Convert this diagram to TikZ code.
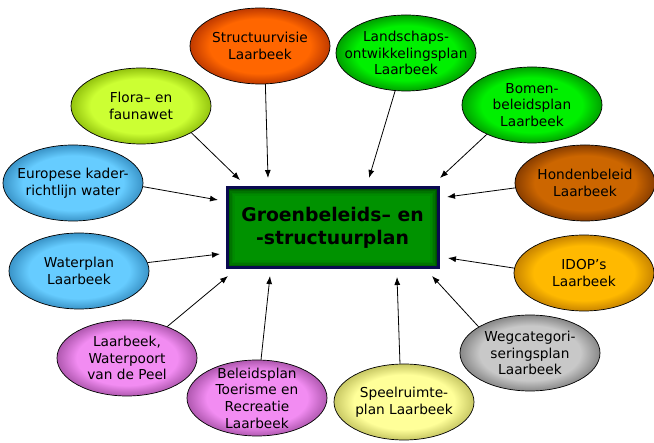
\documentclass[tikz,border=0pt]{standalone}
\usepackage{fontspec}
\setmainfont{DejaVu Sans}
\usetikzlibrary{shapes.geometric,arrows.meta}
\definecolor{ellin}{HTML}{FFFFFF}
\definecolor{ellout}{HTML}{000000}
\pgfdeclareradialshading[ellin,ellout]{ellshade}{\pgfpoint{0bp}{0bp}}{color(0bp)=(ellin);color(18bp)=(ellin);color(25bp)=(ellout);color(50bp)=(ellout)}
\definecolor{cOrange}{HTML}{FF6600}\definecolor{cOrangeD}{HTML}{C03A00}
\definecolor{cFlora}{HTML}{CCFF33}\definecolor{cFloraD}{HTML}{94C40F}
\definecolor{cBlue}{HTML}{66CCFF}\definecolor{cBlueD}{HTML}{3A94C8}
\definecolor{cViolet}{HTML}{F28CF2}\definecolor{cVioletD}{HTML}{B058B0}
\definecolor{cPale}{HTML}{FFFF99}\definecolor{cPaleD}{HTML}{C8C864}
\definecolor{cGray}{HTML}{C8C8C8}\definecolor{cGrayD}{HTML}{888888}
\definecolor{cGold}{HTML}{FFB900}\definecolor{cGoldD}{HTML}{C88400}
\definecolor{cBrown}{HTML}{CC6600}\definecolor{cBrownD}{HTML}{8A3E00}
\definecolor{cGreen}{HTML}{00F000}\definecolor{cGreenD}{HTML}{00A000}
\definecolor{cBox}{HTML}{009200}
\definecolor{cNavy}{HTML}{0A0A50}
\newcommand{\ellfont}{\fontsize{13.7}{16.6}\selectfont}
\newcommand{\boxfont}{\fontsize{18.8}{23}\selectfont\bfseries}
\tikzset{
  ov/.style 2 args={ellipse, draw=black, line width=0.7pt, minimum width=140pt,
    minimum height=76pt, inner xsep=-20pt, inner ysep=-10pt, align=center, font=\ellfont,
    /utils/exec={\colorlet{ellin}{#1}\colorlet{ellout}{#2}}, shading=ellshade},
  conn/.style={line width=0.8pt, -{Latex[length=8pt,width=6pt]}},
  mainbox/.style={rectangle, draw=cNavy, line width=3pt, fill=cBox,
    minimum width=211pt, minimum height=80pt, align=center, font=\boxfont,
    path picture={\foreach \k/\o in {1/0.45,2.5/0.32,4/0.2,5.5/0.11,7/0.05}
      \draw[line width=1.6pt, draw=black, opacity=\o]
        ([shift={(\k pt,-\k pt)}]path picture bounding box.north west) rectangle
        ([shift={(-\k pt,\k pt)}]path picture bounding box.south east);}}
}
\begin{document}
\begin{tikzpicture}[x=1pt,y=-1pt]
\useasboundingbox (0,0) rectangle (654,443);
\node[mainbox] (box) at (332.5,228) {Groenbeleids– en\\-structuurplan};
\node[ov={cOrange}{cOrangeD}] (e1) at (260,46) {Structuurvisie\\Laarbeek};
\node[ov={cFlora}{cFloraD}] (e2) at (141,106) {Flora– en\\faunawet};
\node[ov={cBlue}{cBlueD}] (e3) at (73,183) {Europese kader-\\richtlijn water};
\node[ov={cBlue}{cBlueD}] (e4) at (79,271) {Waterplan\\Laarbeek};
\node[ov={cViolet}{cVioletD}] (e5) at (127,358) {Laarbeek,\\Waterpoort\\van de Peel};
\node[ov={cViolet}{cVioletD}] (e6) at (257,398) {Beleidsplan\\Toerisme en\\Recreatie\\Laarbeek};
\node[ov={cPale}{cPaleD}] (e7) at (404,402) {Speelruimte-\\plan Laarbeek};
\node[ov={cGray}{cGrayD}] (e8) at (530,353) {Wegcategori-\\seringsplan\\Laarbeek};
\node[ov={cGold}{cGoldD}] (e9) at (584,273) {IDOP’s\\Laarbeek};
\node[ov={cBrown}{cBrownD}] (e10) at (585,183) {Hondenbeleid\\Laarbeek};
\node[ov={cGreen}{cGreenD}] (e11) at (532,105) {Bomen-\\beleidsplan\\Laarbeek};
\node[ov={cGreen}{cGreenD}] (e12) at (406,53) {Landschaps-\\ontwikkelingsplan\\Laarbeek};
\coordinate (t1) at (268,178);
\coordinate (t2) at (240,180);
\coordinate (t3) at (218,200);
\coordinate (t4) at (220,254);
\coordinate (t5) at (228,276);
\coordinate (t6) at (270,276);
\coordinate (t7) at (397,277);
\coordinate (t8) at (432,276);
\coordinate (t9) at (448,258);
\coordinate (t10) at (447,197);
\coordinate (t11) at (440,178);
\coordinate (t12) at (369,178);
\draw[conn] (e1.-82.5) -- (t1);
\draw[conn] (e2.-28) -- (t2);
\draw[conn] (e3.-3) -- (t3);
\draw[conn] (e4.7) -- (t4);
\draw[conn] (e5.38) -- (t5);
\draw[conn] (e6.84) -- (t6);
\draw[conn] (e7.96) -- (t7);
\draw[conn] (e8.153) -- (t8);
\draw[conn] (e9.176.6) -- (t9);
\draw[conn] (e10.184) -- (t10);
\draw[conn] (e11.213.7) -- (t11);
\draw[conn] (e12.254) -- (t12);
\end{tikzpicture}
\end{document}
